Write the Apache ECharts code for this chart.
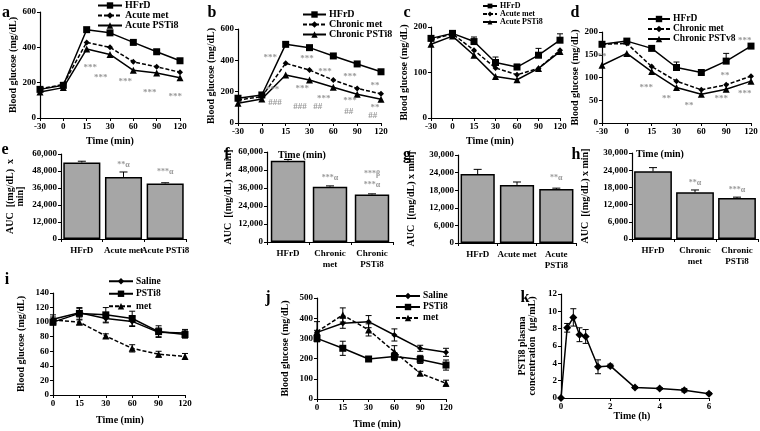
<!DOCTYPE html>
<html><head><meta charset="utf-8">
<script src="https://cdn.jsdelivr.net/npm/echarts@6/dist/echarts.min.js"></script>
<style>html,body{margin:0;padding:0;background:#fff}#c{width:760px;height:431px}</style>
</head><body><div id="c"></div>
<script>
// ---------- DATA ----------
const timeAD = ['-30','0','15','30','60','90','120'];
const timeIJ = ['0','15','30','60','90','120'];

// panel a
const aHFrD = [162,185,500,482,428,375,324];
const aHFrDErr = [0,0,0,0,0,0,12];
const aMet = [165,190,428,400,318,290,259];
const aPST = [147,172,390,360,270,255,228];
const aStars = [[2.15,283,'***'],[2.6,226,'***'],[3.65,204,'***'],[4.7,141,'***'],[5.8,119,'***']];

// panel b
const bHFrD = [158,179,502,481,428,377,327];
const bHFrDErr = [0,0,0,0,0,0,12];
const bMet = [147,168,381,338,274,221,186];
const bPST = [126,153,306,274,228,183,151];
const bStars = [[1.35,415,'***'],[2.9,408,'***'],[3.65,326,'***'],[4.7,293,'***'],[5.75,236,'**'],
  [1.45,215,'***'],[2.7,217,'***'],[3.6,153,'***'],[4.7,140,'***'],[5.75,96,'**'],
  [1.55,128,'###'],[2.6,102,'###'],[3.35,102,'##'],[4.65,70,'##'],[5.65,45,'##']];

// panel c
const cHFrD = [175,186,168,122,112,138,171];
const cHFrDErr = [0,0,10,12,6,15,14];
const cMet = [172,185,149,110,95,109,149];
const cPST = [162,180,138,91,84,109,146];

// panel d
const dHFrD = [173,180,164,122,111,136,169];
const dHFrDErr = [0,0,0,12,0,17,0];
const dMet = [173,175,124,92,73,84,103];
const dPST = [127,153,113,78,63,74,92];
const dStars = [[0,145,'**'],[1.78,77,'***'],[2.6,53,'**'],[3.5,37,'**'],[4.8,53,'***'],[5.75,64,'***'],[4.95,103,'**'],[5.75,180,'***']];

// panel e
const eCats = ['HFrD','Acute met','Acute PSTi8'];
const eAUC = [54000,43800,39200];
const eErr = [900,3500,500];
const eStars = [[1,52000,'**α'],[2,47300,'***α']];

// panel f
const fCats = ['HFrD','Chronic\nmet','Chronic\nPSTi8'];
const fAUC = [54200,36900,31700];
const fErr = [800,500,400];
const fStars = [[1,42700,'***α'],[2,45300,'***β'],[2,38000,'***α']];

// panel g
const gCats = ['HFrD','Acute met','Acute\nPSTi8'];
const gAUC = [23500,19800,18400];
const gErr = [1600,1000,300];
const gStars = [[2,22200,'**α']];

// panel h
const hCats = ['HFrD','Chronic\nmet','Chronic\nPSTi8'];
const hAUC = [23600,16300,14300];
const hErr = [1300,800,300];
const hStars = [[1,19600,'**α'],[2,17100,'***α']];

// panel i
const iSaline = [104,113,105,101,86,85];
const iSalineErr = [6,6,6,7,6,5];
const iPST = [100,112,110,105,87,83];
const iPSTErr = [4,8,10,10,8,5];
const iMet = [103,100,81,64,56,53];
const iMetErr = [4,3,3,5,4,4];

// panel j
const jSaline = [330,375,383,317,251,231];
const jSalineErr = [10,25,30,30,15,20];
const jPST = [300,251,198,210,196,168];
const jPSTErr = [15,35,10,20,20,25];
const jMet = [333,416,342,234,127,78];
const jMetErr = [50,35,30,30,10,15];

// panel k
const kTime = [0,0.25,0.5,0.75,1,1.5,2,3,4,5,6];
const kConc = [0,8.1,9.3,7.3,7.1,3.6,3.7,1.2,1.1,0.9,0.5];
const kErr = [0,0.5,1.0,0.8,0.8,0.8,0.2,0.1,0.1,0.2,0.1];

// ---------- BUILD ----------
const FONT = '"Liberation Serif","Times New Roman",serif';
const BLACK = '#000';
const STAR = '#808080';
const grids = [], xAxes = [], yAxes = [], series = [], legends = [], graphics = [];

function addGrid(r){ grids.push({left:r[0],top:r[1],width:r[2],height:r[3],containLabel:false,outerBoundsMode:'none'}); return grids.length-1; }
function baseAxis(gi){
  return {gridIndex:gi,
    axisLine:{show:true,onZero:false,lineStyle:{color:BLACK,width:1.2}},
    axisTick:{show:true,length:3,lineStyle:{color:BLACK,width:1}},
    axisLabel:{color:BLACK,fontFamily:FONT,fontWeight:'bold',fontSize:9,margin:4},
    splitLine:{show:false},
    nameTextStyle:{color:BLACK,fontFamily:FONT,fontWeight:'bold',fontSize:10}};
}
function fmtK(v){ return String(v).replace(/\B(?=(\d{3})+(?!\d))/g, ','); }
function lineS(gi,name,vals,xs,sym,size,dashed){
  return {type:'line',name,xAxisIndex:gi,yAxisIndex:gi,data:vals.map((v,j)=>[xs?xs[j]:j,v]),
    symbol:sym,symbolSize:size,showSymbol:true,
    lineStyle:{color:BLACK,width:1.5,type:dashed?[4,2]:'solid'},
    itemStyle:{color:BLACK},z:4};
}
function errS(gi,vals,errs,xs,two,cap){
  const data = vals.map((v,j)=>[xs?xs[j]:j, two?v-errs[j]:v, v+errs[j], two?1:0]).filter((d,j)=>errs[j]>0);
  return {type:'custom',xAxisIndex:gi,yAxisIndex:gi,silent:true,z:3,encode:{x:0,y:[1,2]},
    renderItem(params,api){
      const x=api.value(0), lo=api.value(1), hi=api.value(2), t=api.value(3);
      const p1=api.coord([x,lo]), p2=api.coord([x,hi]);
      const st={stroke:BLACK,lineWidth:1};
      const ch=[{type:'line',shape:{x1:p1[0],y1:p1[1],x2:p2[0],y2:p2[1]},style:st},
                {type:'line',shape:{x1:p2[0]-cap,y1:p2[1],x2:p2[0]+cap,y2:p2[1]},style:st}];
      if(t) ch.push({type:'line',shape:{x1:p1[0]-cap,y1:p1[1],x2:p1[0]+cap,y2:p1[1]},style:st});
      return {type:'group',children:ch};
    },
    data};
}
function notesS(gi,notes,fs){
  return {type:'scatter',xAxisIndex:gi,yAxisIndex:gi,silent:true,symbolSize:1,itemStyle:{color:'transparent'},z:6,
    data:notes.map(n=>({value:[n[0],n[1]],label:{formatter:n[2]}})),
    label:{show:true,position:'inside',color:STAR,fontSize:fs||9,fontFamily:FONT,fontWeight:'bold'}};
}
function leg(names,left,top,iw,ih,lh,fs){
  return {left,top,orient:'vertical',padding:0,itemGap:0,itemWidth:iw,itemHeight:ih,selectedMode:false,data:names,
    textStyle:{color:BLACK,fontFamily:FONT,fontWeight:'bold',fontSize:fs,lineHeight:lh,padding:[0,0,0,-2]}};
}
function timePanel(rect,cats,ymax,yint,yname,ygap){
  const gi=addGrid(rect);
  const xa=baseAxis(gi);
  Object.assign(xa,{type:'value',min:0,max:cats.length-1,interval:1});
  xa.axisLabel=Object.assign({},xa.axisLabel,{formatter:v=>cats[v]!==undefined?cats[v]:''});
  xAxes.push(xa);
  const ya=baseAxis(gi);
  Object.assign(ya,{type:'value',min:0,max:ymax,interval:yint,name:yname,nameLocation:'middle',nameRotate:90,nameGap:ygap});
  yAxes.push(ya);
  return gi;
}
function barPanel(rect,cats,vals,errs,stars,ymax,yint,yname,ygap,gap){
  const gi=addGrid(rect);
  const xa=baseAxis(gi);
  Object.assign(xa,{type:'category',data:cats});
  xa.axisLabel=Object.assign({},xa.axisLabel,{margin:6,interval:0,lineHeight:11});
  xAxes.push(xa);
  const ya=baseAxis(gi);
  Object.assign(ya,{type:'value',min:0,max:ymax,interval:yint,name:yname,nameLocation:'middle',nameRotate:90,nameGap:ygap});
  ya.axisLabel=Object.assign({},ya.axisLabel,{formatter:fmtK});
  yAxes.push(ya);
  series.push({type:'bar',xAxisIndex:gi,yAxisIndex:gi,data:vals,barCategoryGap:gap,
    itemStyle:{color:'#a6a6a6',borderColor:BLACK,borderWidth:1.5},z:2});
  series.push(errS(gi,vals,errs,null,false,4));
  series.push(notesS(gi,stars,8));
  return gi;
}

// a
let g = timePanel([40,12,140,106],timeAD,600,200,'Blood glucose (mg/dL)',18);
series.push(lineS(g,'HFrD',aHFrD,null,'rect',7,false));
series.push(lineS(g,'Acute met',aMet,null,'diamond',6,true));
series.push(lineS(g,'Acute PSTi8',aPST,null,'triangle',7,false));
series.push(errS(g,aHFrD,aHFrDErr,null,false,3));
series.push(notesS(g,aStars,9));
legends.push(leg(['HFrD','Acute met','Acute PSTi8'],97,0.5,24,8,9,10));

// b
g = timePanel([238,29,143,94],timeAD,600,200,'Blood glucose (mg/dL)',11);
series.push(lineS(g,'HFrD',bHFrD,null,'rect',7,false));
series.push(lineS(g,'Chronic met',bMet,null,'diamond',6,true));
series.push(lineS(g,'Chronic PSTi8',bPST,null,'triangle',7,false));
series.push(errS(g,bHFrD,bHFrDErr,null,false,3));
series.push(notesS(g,bStars,9));
legends.push(leg(['HFrD','Chronic met','Chronic PSTi8'],302,9.5,23,8,9.5,10));

// c
g = timePanel([431,27,129,91],timeAD,200,100,'Blood glucose (mg/dL)',21);
series.push(lineS(g,'HFrD',cHFrD,null,'rect',7,false));
series.push(lineS(g,'Acute met',cMet,null,'diamond',6,true));
series.push(lineS(g,'Acute PSTi8',cPST,null,'triangle',7,false));
series.push(errS(g,cHFrD,cHFrDErr,null,false,3));
legends.push(leg(['HFrD','Acute met','Acute PSTi8'],482,2,14,6,6.5,8));

// d
g = timePanel([602,32,149,91],timeAD,200,50,'Blood glucose (mg/dL)',20);
series.push(lineS(g,'HFrD',dHFrD,null,'rect',7,false));
series.push(lineS(g,'Chronic met',dMet,null,'diamond',6,true));
series.push(lineS(g,'Chronic PSTv8',dPST,null,'triangle',7,false));
series.push(errS(g,dHFrD,dHFrDErr,null,false,3));
series.push(notesS(g,dStars,9));
legends.push(leg(['HFrD','Chronic met','Chronic PSTv8'],647,14,22,8,10,9.5));

// e-h
barPanel([61,154,125,85],eCats,eAUC,eErr,eStars,60000,12000,'AUC  [(mg/dL)  x\nmin]',36,'11%');
barPanel([267,152,126,90],fCats,fAUC,fErr,fStars,60000,12000,'AUC  [(mg/dL) x min]',34,'18%');
barPanel([458,155,118,88],gCats,gAUC,gErr,gStars,30000,6000,'AUC  [(mg/dL) x min]',42,'13%');
barPanel([632,153,126,86],hCats,hAUC,hErr,hStars,30000,6000,'AUC  [(mg/dL) x min]',42,'10%');

// i
g = timePanel([53,293,132,102],timeIJ,140,20,'Blood glucose (mg/dL)',27);
series.push(errS(g,iSaline,iSalineErr,null,true,3));
series.push(errS(g,iPST,iPSTErr,null,true,3));
series.push(errS(g,iMet,iMetErr,null,true,3));
series.push(lineS(g,'Saline',iSaline,null,'diamond',6,false));
series.push(lineS(g,'PSTi8',iPST,null,'rect',7,false));
series.push(lineS(g,'met',iMet,null,'triangle',7,true));
legends.push(leg(['Saline','PSTi8','met'],108,275,24,8,12.5,9.5));

// j
g = timePanel([317,298,129,101],timeIJ,500,100,'Blood glucose (mg/dL)',27);
series.push(errS(g,jSaline,jSalineErr,null,true,3));
series.push(errS(g,jPST,jPSTErr,null,true,3));
series.push(errS(g,jMet,jMetErr,null,true,3));
series.push(lineS(g,'Saline',jSaline,null,'diamond',6,false));
series.push(lineS(g,'PSTi8',jPST,null,'rect',7,false));
series.push(lineS(g,'met',jMet,null,'triangle',7,true));
legends.push(leg(['Saline','PSTi8','met'],395,290.5,24,8,11,9.5));

// k
g = addGrid([561,294,148,104]);
let kx = baseAxis(g); Object.assign(kx,{type:'value',min:0,max:6,interval:2}); xAxes.push(kx);
let ky = baseAxis(g); Object.assign(ky,{type:'value',min:0,max:12,interval:2,name:'PSTi8 plasma\nconcentration  (μg/mL)',nameLocation:'middle',nameRotate:90,nameGap:24}); yAxes.push(ky);
series.push(errS(g,kConc,kErr,kTime,true,3));
series.push(lineS(g,'PSTi8 plasma',kConc,kTime,'diamond',8,false));

// text: panel letters and x titles
const letters = [['a',6,13],['b',212,13],['c',407,13],['d',575,13],['e',5,150],['f',227,155],['g',407,155],['h',576,155],['i',7,280],['j',268,298],['k',525,298]];
letters.forEach(l=>graphics.push({type:'text',x:l[1],y:l[2],style:{text:l[0],font:'bold 16px '+FONT,fill:BLACK,textAlign:'center',textVerticalAlign:'middle'}}));
const xTitles = [['Time (min)',110,141],['Time (min)',302,155],['Time (min)',490,141],['Time (min)',660,154],['Time (min)',120,420],['Time (min)',377,424],['Time (h)',632,416]];
xTitles.forEach(t=>graphics.push({type:'text',x:t[1],y:t[2],style:{text:t[0],font:'bold 10px '+FONT,fill:BLACK,textAlign:'center',textVerticalAlign:'middle'}}));

const chart = echarts.init(document.getElementById('c'),null,{renderer:'canvas'});
chart.setOption({animation:false,backgroundColor:'#fff',grid:grids,xAxis:xAxes,yAxis:yAxes,series,legend:legends,graphic:graphics});
</script></body></html>
